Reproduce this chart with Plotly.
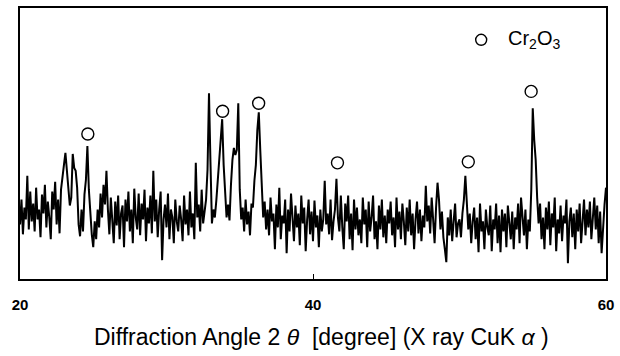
import numpy as np
import plotly.graph_objects as go

# 2-theta grid: 20.0 .. 60.0 step 0.1 (per degree)
two_theta_start = 20.0
two_theta_step = 0.1
intensity = [
    55, 80, 45, 72, 60, 104, 50, 88, 58, 76,      # 20
    48, 92, 60, 70, 42, 85, 66, 95, 52, 78,       # 21
    62, 40, 88, 70, 98, 55, 80, 46, 90, 100,      # 22
    115, 127, 110, 95, 74, 82, 126, 112, 109, 92,  # 23
    55, 43, 70, 48, 85, 100, 134, 90, 60, 45,     # 24
    32, 58, 40, 70, 52, 86, 62, 95, 75, 109,      # 25
    70, 45, 82, 60, 36, 78, 54, 84, 40, 66,       # 26
    74, 32, 80, 58, 88, 48, 70, 36, 91, 62,       # 27
    50, 86, 44, 76, 60, 90, 38, 72, 56, 84,       # 28
    46, 109, 58, 80, 42, 70, 88, 19, 60, 75,      # 29
    52, 86, 40, 70, 62, 36, 80, 58, 48, 74,       # 30
    60, 38, 84, 55, 70, 44, 88, 52, 66, 40,       # 31
    117, 62, 75, 48, 90, 56, 70, 80, 110, 187,    # 32
    118, 56, 70, 62, 79, 100, 120, 145, 161, 115, # 33
    83, 62, 75, 59, 95, 120, 132, 125, 130, 177,  # 34
    90, 60, 72, 48, 80, 55, 68, 44, 76, 72,       # 35
    99, 115, 150, 168, 130, 89, 62, 78, 50, 70,   # 36
    44, 82, 58, 66, 30, 75, 52, 92, 40, 64,       # 37
    56, 80, 26, 70, 48, 86, 60, 38, 74, 52,       # 38
    66, 34, 84, 56, 72, 28, 60, 80, 45, 68,       # 39
    38, 79, 52, 64, 32, 70, 48, 60, 99, 55,       # 40
    66, 45, 80, 39, 58, 70, 101, 62, 48, 84,      # 41
    52, 30, 76, 58, 84, 40, 66, 29, 80, 50,       # 42
    72, 44, 60, 36, 82, 55, 70, 32, 78, 48,       # 43
    62, 84, 40, 58, 30, 74, 50, 80, 42, 64,       # 44
    36, 70, 56, 78, 44, 62, 32, 82, 50, 68,       # 45
    40, 76, 58, 34, 72, 48, 80, 44, 66, 30,       # 46
    60, 78, 46, 70, 38, 64, 52, 94, 58, 74,       # 47
    46, 82, 60, 36, 72, 97, 80, 50, 68, 42,       # 48
    30, 17, 62, 44, 70, 38, 58, 76, 42, 56,       # 49
    60, 42, 66, 80, 104, 78, 50, 66, 36, 58,      # 50
    72, 40, 62, 27, 76, 48, 58, 30, 70, 52,       # 51
    44, 74, 28, 60, 50, 76, 36, 64, 27, 70,       # 52
    48, 66, 32, 74, 54, 40, 68, 30, 62, 50,       # 53
    76, 36, 82, 58, 44, 70, 30, 60, 48, 90,       # 54
    172, 140, 120, 82, 56, 76, 40, 62, 30, 72,    # 55
    50, 78, 34, 66, 52, 82, 28, 60, 46, 74,       # 56
    38, 64, 56, 80, 16, 58, 72, 42, 66, 30,       # 57
    70, 48, 76, 36, 62, 80, 44, 70, 52, 78,       # 58
    40, 66, 82, 50, 74, 36, 68, 26, 58, 75,       # 59
    92,                                           # 60
]
two_theta = [round(two_theta_start + i * two_theta_step, 2) for i in range(len(intensity))]

# Cr2O3 peak markers (open circles)
marker_x = [24.63, 33.83, 36.29, 41.67, 50.6, 54.89]
marker_y = [146, 169, 177, 117, 118, 189]

legend_label = "Cr<sub>2</sub>O<sub>3</sub>"
legend_x = [51.48]
legend_y = [241]

x_ticks = [20, 40, 60]
x_title = "Diffraction Angle 2 <i>θ</i>  [degree] (X ray CuK <i>α</i> )"

fig = go.Figure()
fig.add_trace(go.Scatter(x=two_theta, y=intensity, mode="lines",
                         line=dict(color="black", width=2.0), hoverinfo="skip"))
fig.add_trace(go.Scatter(x=marker_x, y=marker_y, mode="markers",
                         marker=dict(symbol="circle-open", size=12, color="black",
                                     line=dict(width=1.4, color="black"))))
fig.add_trace(go.Scatter(x=legend_x, y=legend_y, mode="markers",
                         marker=dict(symbol="circle-open", size=11, color="black",
                                     line=dict(width=1.4, color="black"))))
fig.add_annotation(x=53.19, y=241, text=legend_label, showarrow=False,
                   xanchor="left", yanchor="middle",
                   font=dict(family="Liberation Sans, Arial", size=20, color="black"))
fig.add_annotation(x=0.515, y=-0.215, xref="paper", yref="paper", text=x_title,
                   showarrow=False, xanchor="center", yanchor="middle",
                   font=dict(family="Liberation Sans, Arial", size=23, color="black"))

fig.update_layout(
    width=620, height=356,
    margin=dict(l=20, r=13, t=6, b=77),
    paper_bgcolor="white", plot_bgcolor="white",
    showlegend=False,
    xaxis=dict(range=[20, 60], tickvals=x_ticks, ticktext=[str(t) for t in x_ticks],
               ticks="inside", ticklen=5, tickcolor="black", tickwidth=1,
               ticklabelstandoff=11,
               showline=True, linecolor="black", linewidth=1.5, mirror=True,
               showgrid=False, zeroline=False,
               tickfont=dict(family="Liberation Sans, Arial", size=15, color="black", weight="bold")),
    yaxis=dict(range=[0, 273], showticklabels=False, ticks="",
               showline=True, linecolor="black", linewidth=1.5, mirror=True,
               showgrid=False, zeroline=False),
)

fig.write_html("out.html", config={"displayModeBar": False},
               post_script="document.body.style.margin='0';")
